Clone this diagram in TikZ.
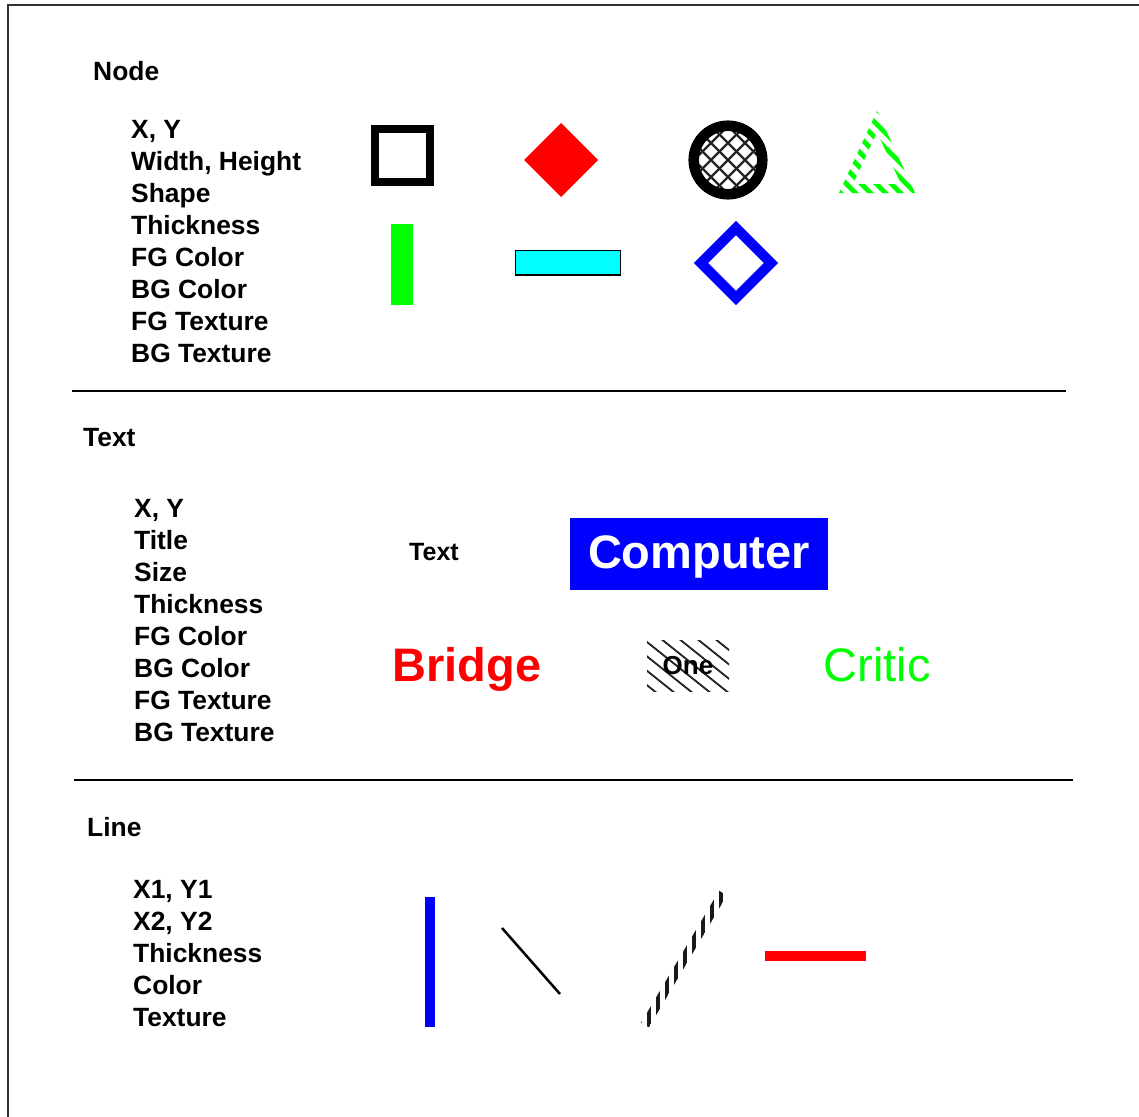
\documentclass[tikz,border=0pt]{standalone}
\usepackage{fontspec}
\setmainfont{Liberation Sans}
\definecolor{pred}{RGB}{255,0,0}
\definecolor{pgreen}{RGB}{0,255,0}
\definecolor{pblue}{RGB}{0,0,255}
\definecolor{pcyan}{RGB}{0,255,255}
\begin{document}
\begin{tikzpicture}[x=1pt,y=-1pt,
  lbl/.style={font={\fontsize{26.4}{30}\selectfont\bfseries}, anchor=base west, inner sep=0pt},
  big/.style={font={\fontsize{47}{54}\selectfont\bfseries}, anchor=base, inner sep=0pt},
  sep/.style={line width=1.3pt},
  hatch/.style={line width=2pt, black!85}]
\useasboundingbox (0,0) rectangle (1139,1116);
% frame
\draw[line width=2pt, black!80] (8,1120) -- (8,5) -- (1142,5);

% ---------------- Node section
\node[lbl] (hnode) at (93,80) {Node};
\foreach \t [count=\i from 0] in {{X, Y},{Width, Height},Shape,Thickness,FG Color,BG Color,FG Texture,BG Texture}
  \node[lbl] (n\i) at (131,138+32*\i) {\t};

\node[draw, line width=8pt, minimum width=55pt, minimum height=53pt, inner sep=0pt] (sq) at (402.5,155.5) {};
\fill[pred] (561,123) -- (598,160) -- (561,197) -- (524,160) -- cycle;
\begin{scope}
  \clip (728,160) circle (30);
  \foreach \k in {-6,...,6} {
    \draw[hatch, line width=2.4pt] (728+\k*17-60,100) -- ++(120,120);
    \draw[hatch, line width=2.4pt] (728+\k*17+60,100) -- ++(-120,120);
  }
\end{scope}
\draw[line width=10.5pt] (728,160) circle (34.3);
\draw[pgreen, line width=9pt, line join=miter] (877,121.5) -- (908,188.5) -- (846,188.5) -- cycle;
\begin{scope}
  \clip (830,100) rectangle (925,200);
  \foreach \k in {0,...,14}
    \draw[white, line width=5.5pt] (680+\k*15,100) -- ++(110,110);
\end{scope}
\fill[pgreen] (391,224) rectangle (413,305);
\draw[fill=pcyan, line width=1.5pt] (515.5,250.5) rectangle (620.5,275);
\draw[pblue, line width=10pt, line join=miter] (736,228) -- (771,263) -- (736,298) -- (701,263) -- cycle;

\draw[sep] (72,391) -- (1066,391);

% ---------------- Text section
\node[lbl] (htext) at (83,446) {Text};
\foreach \t [count=\i from 0] in {{X, Y},Title,Size,Thickness,FG Color,BG Color,FG Texture,BG Texture}
  \node[lbl] (t\i) at (134,517+32*\i) {\t};

\node[font={\fontsize{25}{30}\selectfont\bfseries}, anchor=base, inner sep=0pt] (txt) at (434,560) {Text};
\node[fill=pblue, minimum width=258pt, minimum height=72pt, inner sep=0pt] (compbox) at (699,554) {};
\node[big, white] (comp) at (699,568) {Computer};
\node[big, pred] (bridge) at (467,681) {Bridge};
\begin{scope}
  \clip (647,640) rectangle (729,691);
  \foreach \k in {0,...,9}
    \draw[hatch, line width=1.8pt] (560+\k*18,630) -- ++(90,72);
\end{scope}
\node[font={\fontsize{26}{30}\selectfont\bfseries}, anchor=base, inner sep=0pt] (one) at (688,674) {One};
\node[font={\fontsize{47}{54}\selectfont}, anchor=base, inner sep=0pt, pgreen] (critic) at (877,681) {Critic};

\draw[sep] (74,780) -- (1073,780);

% ---------------- Line section
\node[lbl] (hline) at (87,836) {Line};
\foreach \t [count=\i from 0] in {{X1, Y1},{X2, Y2},Thickness,Color,Texture}
  \node[lbl] (l\i) at (133,898+32*\i) {\t};

\draw[pblue, line width=10pt] (430,897) -- (430,1027);
\draw[line width=2.5pt] (502,928) -- (560,994);
\begin{scope}
  \clip (648.9,1027.3) -- (726.9,895.3) -- (719.1,890.7) -- (641.1,1022.7) -- cycle;
  \foreach \k in {0,...,10}
    \draw[black!90, line width=4.5pt] (640+9*\k,880) -- ++(0,160);
\end{scope}
\draw[pred, line width=10pt] (765,956) -- (866,956);
\end{tikzpicture}
\end{document}
